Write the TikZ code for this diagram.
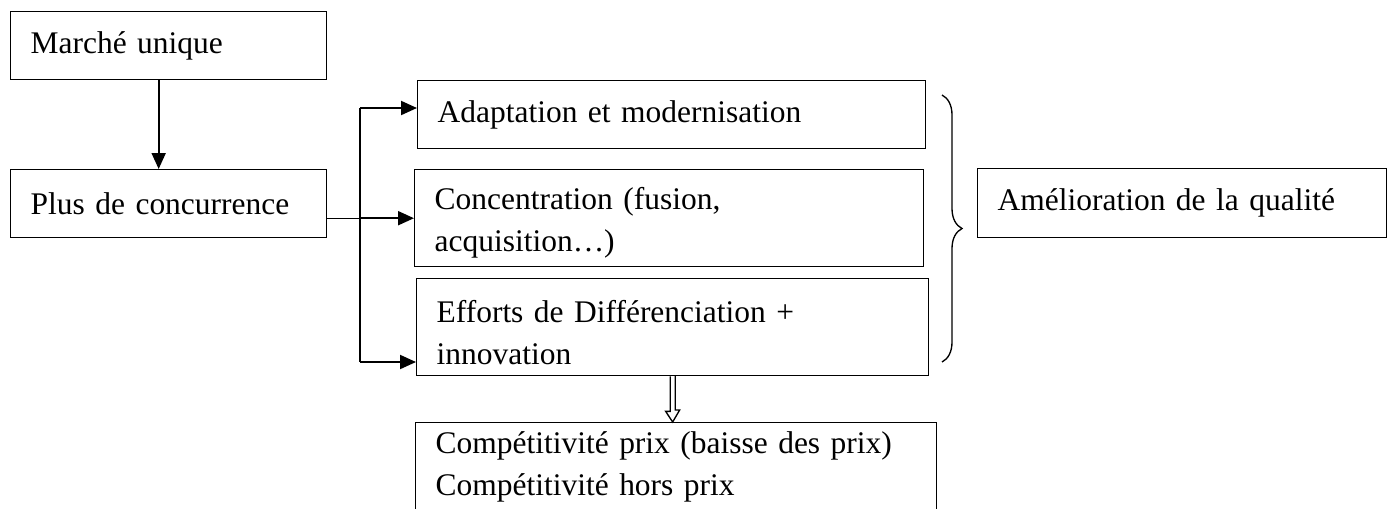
\documentclass[tikz,border=0pt]{standalone}
\usepackage{fontspec}
\setmainfont{Liberation Serif}
\usetikzlibrary{arrows.meta,decorations.pathreplacing}
\tikzset{
  boite/.style={draw, line width=0.5pt, anchor=north west, inner xsep=7.5pt,
    inner ysep=0pt, align=left, font=\fontsize{11.8}{15.75}\selectfont},
  fleche/.style={line width=0.75pt, -{Triangle[length=6pt,width=5.25pt]}},
  lien/.style={line width=0.4pt}
}
\begin{document}
\begin{tikzpicture}[x=0.375pt,y=-0.375pt]
        \useasboundingbox (0,0) rectangle (1387,508);
        %% Boxes
        \node[boite, text width=103.5pt, minimum height=25.5pt] (marche) at (10,11) {Marché unique};
        \node[boite, text width=103.5pt, minimum height=25.5pt] (concurrence) at (10,169) {Plus de concurrence};
        \node[boite, text width=175.5pt, minimum height=25.5pt] (adaptation) at (417,80) {Adaptation et modernisation};
        \node[boite, text width=175.9pt, minimum height=36.4pt, text height=12pt] (concentration) at (414,169) {Concentration (fusion,\\acquisition…)};
        \node[boite, text width=177pt, minimum height=36.4pt, text height=12pt] (differenciation) at (416,278) {Efforts de Différenciation +\\innovation};
        \node[boite, text width=138.4pt, minimum height=25.9pt] (qualite) at (977,168) {Amélioration de la qualité};
        \node[boite, text width=180.4pt, inner ysep=3.5pt, text depth=30pt] (competitivite) at (415,422) {Compétitivité prix (baisse des prix)\\Compétitivité hors prix};
        %% Fork
        \coordinate (haut) at (360,108);
        \coordinate (bas) at (360,362);
        \coordinate (milieu) at (haut |- concentration.west);
        \draw[lien] (haut) -- (bas);
        \draw[fleche] (haut) -- (haut -| adaptation.west);
        \draw[lien] (concurrence.east |- concentration.west) -- (milieu);
        \draw[fleche] (milieu) -- (concentration.west);
        \draw[fleche] (bas) -- (bas -| differenciation.west);
        %% Down arrow
        \draw[fleche] ([xshift=-3.75pt]marche.south) -- ([xshift=-3.75pt]concurrence.north);
        %% Hollow arrow to the result
        \draw[line width=0.5pt] ([xshift=-0.94pt]differenciation.south) -- ++(0,35) -- ++(-4.5,0)
          -- (differenciation.south |- competitivite.north) -- ++(7,-12) -- ++(-4.5,0) -- ++(0,-35);
        %% Brace
        \draw[line width=0.5pt, decorate, decoration={brace, amplitude=7.5pt}] (942,95) -- (942,362);
    \end{tikzpicture}
\end{document}
